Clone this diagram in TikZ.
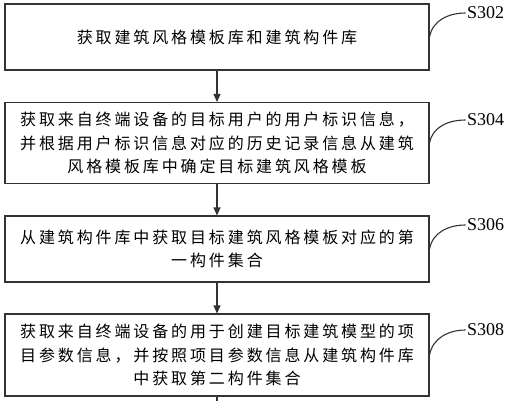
\documentclass[tikz,border=0pt]{standalone}
\usepackage{fontspec}
\setmainfont{Liberation Serif}
\newfontfamily\cjk[LetterSpace=18]{Noto Sans CJK SC}
\usetikzlibrary{arrows.meta}
\tikzstyle{block} = [rectangle, draw=black!80, line width=1.1pt,
    minimum width=424pt, text width=410pt, align=center,
    font=\cjk\fontsize{16pt}{23.5pt}\selectfont]
\tikzstyle{steplabel} = [anchor=west, inner sep=1pt, font=\fontsize{18pt}{18pt}\selectfont]

\begin{document}
\begin{tikzpicture}[->,>={Triangle[length=8pt,width=7pt]},line width=1.1pt,
                    draw=black!80,node distance=106pt]
  \useasboundingbox (0,0) rectangle (506pt,-400pt);

  \node[block,minimum height=66pt] (s302) at (217pt,-37pt) {获取建筑风格模板库和建筑构件库};
  \node[block,minimum height=81pt] (s304) [below of=s302] {获取来自终端设备的目标用户的用户标识信息，\\并根据用户标识信息对应的历史记录信息从建筑\\风格模板库中确定目标建筑风格模板};
  \node[block,minimum height=66pt] (s306) [below of=s304] {从建筑构件库中获取目标建筑风格模板对应的第\\一构件集合};
  \node[block,minimum height=82pt] (s308) [below of=s306] {获取来自终端设备的用于创建目标建筑模型的项\\目参数信息，并按照项目参数信息从建筑构件库\\中获取第二构件集合};
  \coordinate (next) at ([yshift=-12pt]s308.south);

  % step labels
  \node[steplabel] (l302) at ([xshift=36pt,yshift=24pt]s302.east) {S302};
  \node[steplabel] (l304) at ([xshift=36pt,yshift=23pt]s304.east) {S304};
  \node[steplabel] (l306) at ([xshift=36pt,yshift=24pt]s306.east) {S306};
  \node[steplabel] (l308) at ([xshift=36pt,yshift=25pt]s308.east) {S308};

  \path (s302) edge (s304)
        (s304) edge (s306)
        (s306) edge (s308);
  \draw[-] (s308) -- (next);

  \draw[-] (s302.east) to[out=80,in=180] (l302.west);
  \draw[-] (s304.east) to[out=80,in=180] (l304.west);
  \draw[-] (s306.east) to[out=80,in=180] (l306.west);
  \draw[-] (s308.east) to[out=80,in=180] (l308.west);
\end{tikzpicture}
\end{document}
